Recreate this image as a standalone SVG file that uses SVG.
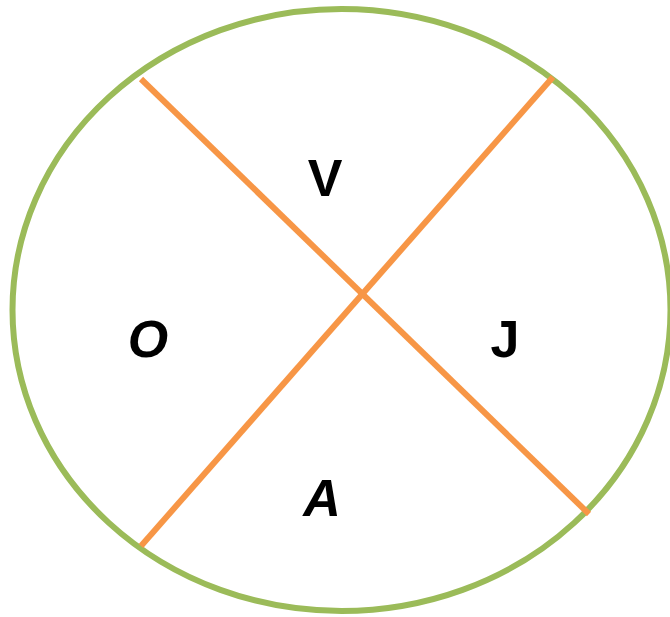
<svg xmlns="http://www.w3.org/2000/svg" width="670" height="617" viewBox="0 0 670 617">
<style>
.lbl{font-family:"Comic Sans MS","Liberation Sans",sans-serif;font-weight:bold;font-size:52px;fill:#000;text-anchor:middle}
.ln{stroke:#f79646;stroke-width:6;fill:none}
</style>
<rect width="670" height="617" fill="#fff"/>
<g id="circle"><ellipse cx="341.5" cy="310" rx="329" ry="301" fill="none" stroke="#9bbb59" stroke-width="6"/></g>
<g id="connectors">
<line class="ln" x1="141" y1="79" x2="589" y2="514"/>
<line class="ln" x1="553" y1="77" x2="141" y2="546"/>
</g>
<g id="V"><text class="lbl" x="325" y="196">V</text></g>
<g id="O"><text class="lbl" x="148" y="357" font-style="italic">O</text></g>
<g id="J"><text class="lbl" x="505" y="357">J</text></g>
<g id="A"><text class="lbl" x="322" y="516" font-style="italic">A</text></g>
</svg>
